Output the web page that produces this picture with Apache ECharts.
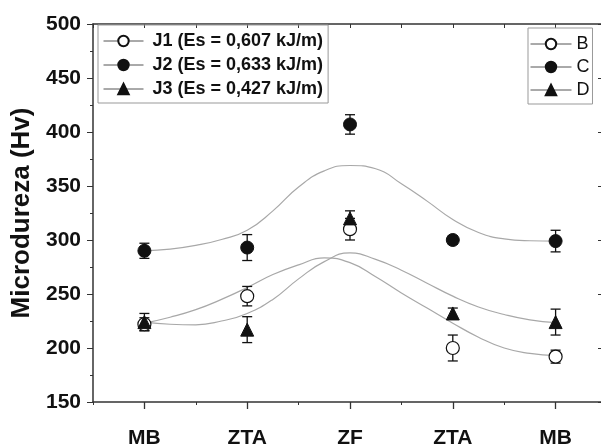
<!DOCTYPE html>
<html lang="pt">
<head>
    <meta charset="UTF-8">
    <title>Microdureza</title>
    <script src="https://cdn.jsdelivr.net/npm/echarts@6/dist/echarts.min.js"></script>
    <style>
        body { margin: 0; background: #fff; }
        #main { width: 601px; height: 446px; }
    </style>
</head>
<body>
    <div id="main"></div>
    <script>
        // posições das zonas e rótulos do eixo x
        const xPos = [1, 2, 3, 4, 5];
        const zoneLabels = ['MB', 'ZTA', 'ZF', 'ZTA', 'MB'];

        // médias e desvios
        const j1 = [222, 248, 310, 200, 192];
        const j1Err = [6, 9, 10, 12, 6];
        const j2 = [290, 293, 407, 300, 299];
        const j2Err = [7, 12, 9, 4, 10];
        const j3 = [224, 217, 320, 232, 224];
        const j3Err = [8, 12, 7, 5, 12];

        // curvas de ajuste (cinza) lidas ponto a ponto
        const fitX = [1, 1.25, 1.5, 1.75, 2, 2.25, 2.5, 2.75, 3, 3.25, 3.5, 3.75, 4, 4.25, 4.5, 4.75, 5];
        const fitJ1 = [223, 228.5, 235.5, 245, 256, 268, 277, 283.5, 279, 266, 251, 237, 223, 210, 200, 195, 193];
        const fitJ2 = [290, 291.5, 295, 300.5, 309, 327, 349, 364, 369, 366, 352, 336, 319, 307, 301, 299.3, 299];
        const fitJ3 = [224, 222, 221.5, 225, 232, 245, 264, 280, 288, 282, 272, 260, 248, 238, 231, 226, 223.5];

        const yTicks = [150, 200, 250, 300, 350, 400, 450, 500];

        const font = 'Liberation Sans, Arial, sans-serif';
        const axisColor = '#333';

        function pairs(xs, ys) {
            return xs.map((x, i) => [x, ys[i]]);
        }
        function errData(ys, es) {
            return xPos.map((x, i) => [x, ys[i], es[i]]);
        }

        function errorBars(params, api) {
            const x = api.value(0), y = api.value(1), e = api.value(2);
            const top = api.coord([x, y + e]);
            const bot = api.coord([x, y - e]);
            const w = 5;
            const style = { stroke: '#111', lineWidth: 1.3 };
            return {
                type: 'group',
                children: [
                    { type: 'line', shape: { x1: top[0], y1: top[1], x2: bot[0], y2: bot[1] }, style: style },
                    { type: 'line', shape: { x1: top[0] - w, y1: top[1], x2: top[0] + w, y2: top[1] }, style: style },
                    { type: 'line', shape: { x1: bot[0] - w, y1: bot[1], x2: bot[0] + w, y2: bot[1] }, style: style }
                ]
            };
        }

        const openStyle = { color: '#fff', borderColor: '#111', borderWidth: 1.2 };
        const fullStyle = { color: '#111', borderColor: '#111', borderWidth: 1 };

        function pointSeries(name, ys, symbol, itemStyle) {
            return {
                name: name,
                type: 'line',
                data: ys ? pairs(xPos, ys) : [],
                symbol: symbol,
                symbolSize: 13,
                showSymbol: true,
                lineStyle: { opacity: 0 },
                itemStyle: itemStyle,
                z: 5,
                silent: true
            };
        }

        function fitSeries(ys) {
            return {
                type: 'line',
                data: pairs(fitX, ys),
                smooth: true,
                showSymbol: false,
                lineStyle: { color: '#a8a8a8', width: 1.2 },
                z: 2,
                silent: true
            };
        }

        function errSeries(ys, es) {
            return {
                type: 'custom',
                renderItem: errorBars,
                data: errData(ys, es),
                z: 4,
                silent: true
            };
        }

        const myChart = echarts.init(document.getElementById('main'));

        const option = {
            animation: false,
            textStyle: { fontFamily: font },
            grid: { left: 93, width: 514, top: 24, bottom: 44, outerBoundsMode: 'none', containLabel: false },
            legend: [
                {
                    data: ['J1', 'J2', 'J3'],
                    formatter: function (n) {
                        return { J1: 'J1 (Es = 0,607 kJ/m)', J2: 'J2 (Es = 0,633 kJ/m)', J3: 'J3 (Es = 0,427 kJ/m)' }[n];
                    },
                    orient: 'vertical',
                    left: 98,
                    top: 25,
                    padding: [7, 5, 5, 5],
                    itemWidth: 40,
                    itemHeight: 13,
                    itemGap: 6,
                    borderColor: '#999',
                    borderWidth: 1,
                    lineStyle: { color: '#555', width: 1, opacity: 1 },
                    textStyle: { fontFamily: font, fontSize: 18, fontWeight: 'bold', color: '#111', padding: [0, 0, 0, 4] }
                },
                {
                    data: ['B', 'C', 'D'],
                    orient: 'vertical',
                    left: 528,
                    top: 28,
                    padding: [7, 3, 5, 2],
                    itemWidth: 41,
                    itemHeight: 13,
                    itemGap: 5,
                    borderColor: '#999',
                    borderWidth: 1,
                    lineStyle: { color: '#555', width: 1, opacity: 1 },
                    textStyle: { fontFamily: font, fontSize: 18, color: '#111' }
                }
            ],
            xAxis: [
                {
                    type: 'value',
                    min: 0.5,
                    max: 5.5,
                    interval: 0.5,
                    axisLine: { show: true, lineStyle: { color: axisColor, width: 1.5 } },
                    axisTick: { show: true, length: 3, lineStyle: { color: axisColor } },
                    splitLine: { show: false },
                    axisLabel: {
                        margin: 26,
                        fontSize: 21,
                        fontWeight: 'bold',
                        color: '#111',
                        formatter: function (v) {
                            const i = xPos.indexOf(v);
                            return i >= 0 ? zoneLabels[i] : '';
                        }
                    }
                },
                {
                    type: 'value',
                    position: 'bottom',
                    min: 0.5,
                    max: 5.5,
                    interval: 0.5,
                    axisLine: { show: false },
                    axisTick: { show: true, length: 7, customValues: xPos, lineStyle: { color: axisColor, width: 1.3 } },
                    axisLabel: { show: false },
                    splitLine: { show: false }
                },
                {
                    type: 'value',
                    position: 'top',
                    min: 0.5,
                    max: 5.5,
                    interval: 0.5,
                    axisLine: { show: true, lineStyle: { color: axisColor, width: 1.5 } },
                    axisTick: { show: true, inside: true, length: 4, lineStyle: { color: axisColor } },
                    axisLabel: { show: false },
                    splitLine: { show: false }
                }
            ],
            yAxis: [
                {
                    type: 'value',
                    min: 150,
                    max: 500,
                    interval: 50,
                    name: 'Microdureza (Hv)',
                    nameLocation: 'middle',
                    nameGap: 55,
                    nameTextStyle: { fontFamily: font, fontSize: 26, fontWeight: 'bold', color: '#111' },
                    axisLine: { show: true, lineStyle: { color: axisColor, width: 1.5 } },
                    axisTick: { show: true, length: 6, lineStyle: { color: axisColor } },
                    minorTick: { show: true, splitNumber: 2, length: 3, lineStyle: { color: axisColor } },
                    splitLine: { show: false },
                    axisLabel: {
                        margin: 12,
                        fontSize: 21,
                        fontWeight: 'bold',
                        color: '#111',
                        formatter: function (v) {
                            return yTicks.indexOf(v) >= 0 ? String(v) : '';
                        }
                    }
                },
                {
                    type: 'value',
                    position: 'right',
                    min: 150,
                    max: 500,
                    interval: 50,
                    axisLine: { show: true, lineStyle: { color: axisColor, width: 1.5 } },
                    axisTick: { show: true, inside: true, length: 9, lineStyle: { color: axisColor } },
                    axisLabel: { show: false },
                    splitLine: { show: false }
                }
            ],
            series: [
                fitSeries(fitJ1),
                fitSeries(fitJ2),
                fitSeries(fitJ3),
                errSeries(j1, j1Err),
                errSeries(j2, j2Err),
                errSeries(j3, j3Err),
                pointSeries('J1', j1, 'circle', openStyle),
                pointSeries('J2', j2, 'circle', fullStyle),
                pointSeries('J3', j3, 'triangle', fullStyle),
                pointSeries('B', null, 'circle', openStyle),
                pointSeries('C', null, 'circle', fullStyle),
                pointSeries('D', null, 'triangle', fullStyle)
            ]
        };

        myChart.setOption(option);
    </script>
</body>
</html>
